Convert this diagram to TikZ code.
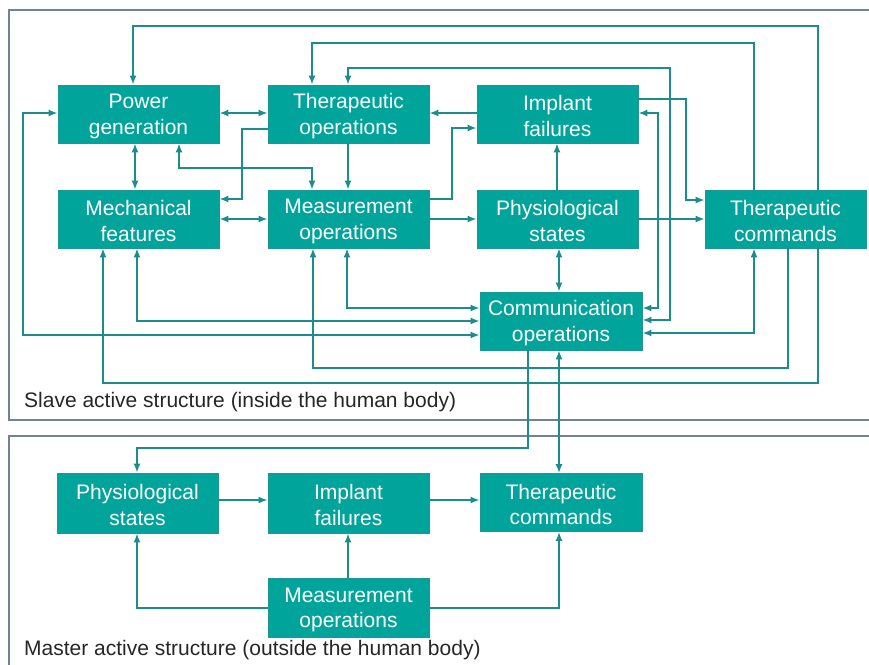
\documentclass[tikz,border=0pt]{standalone}
\usepackage{fontspec}
\setmainfont{Liberation Sans}
\usetikzlibrary{arrows.meta}
\definecolor{boxfill}{RGB}{0,164,154}
\definecolor{boxedge}{RGB}{30,150,145}
\definecolor{linecol}{RGB}{28,140,140}
\definecolor{framecol}{RGB}{112,130,150}
\newcommand{\twoln}[2]{\rule{0pt}{19.5pt}#1\\#2}
\tikzset{
  blk/.style={draw=boxedge, line width=0.8pt, fill=boxfill, text=white, align=center,
    minimum width=161pt, minimum height=58pt, inner sep=0pt,
    font=\fontsize{21}{25.5}\selectfont},
  con/.style={draw=linecol, line width=1.6pt},
  >={Latex[length=9pt,width=7pt]},
  frm/.style={draw=framecol, line width=2pt},
  lbl/.style={anchor=base west, inner sep=0pt, text=black!85, font=\fontsize{21}{24}\selectfont}
}
\begin{document}
\begin{tikzpicture}[x=1pt,y=-1pt]
\useasboundingbox (0,0) rectangle (869,664);
% frames
\draw[frm] (875,10) -- (9,10) -- (9,420) -- (875,420);
\draw[frm] (875,436) -- (9,436) -- (9,670);
\node[lbl] (slavelbl) at (24,407) {Slave active structure (inside the human body)};
\node[lbl] (masterlbl) at (24,655) {Master active structure (outside the human body)};
% slave blocks
\node[blk] (PG) at (138.5,114) {\twoln{Power}{generation}};
\node[blk] (TO) at (348.5,114) {\twoln{Therapeutic}{operations}};
\node[blk] (IF) at (557.5,114) {\twoln{Implant}{failures}};
\node[blk] (MF) at (138.5,219) {\twoln{Mechanical}{features}};
\node[blk] (MO) at (348.5,219) {\twoln{Measurement}{operations}};
\node[blk] (PS) at (557.5,219) {\twoln{Physiological}{states}};
\node[blk] (TC) at (785.5,219) {\twoln{Therapeutic}{commands}};
\node[blk, minimum width=162pt] (CO) at (561,321) {\twoln{Communication}{operations}};
% master blocks
\node[blk, minimum height=60pt] (mPS) at (137.5,503) {\twoln{Physiological}{states}};
\node[blk, minimum height=60pt] (mIF) at (348.5,503) {\twoln{Implant}{failures}};
\node[blk, minimum width=162pt] (mTC) at (561,502.5) {\twoln{Therapeutic}{commands}};
\node[blk, minimum height=59pt] (mMO) at (348.5,607.5) {\twoln{Measurement}{operations}};
% slave connectors
\draw[con,->] (818,0 |- TC.north) -- (818,26) -- (133,26) -- (133,0 |- PG.north);
\draw[con,->] (754,0 |- TC.north) -- (754,43) -- (312,43) -- (312,0 |- TO.north);
\draw[con,<->] (348,0 |- TO.north) -- (348,68) -- (670,68) -- (670,320) -- (CO.east |- 0,320);
\draw[con,<->] (IF.east |- 0,113) -- (658,113) -- (658,308) -- (CO.east |- 0,308);
\draw[con,->] (IF.east |- 0,99) -- (686,99) -- (686,200) -- (TC.west |- 0,200);
\draw[con,->] (PS.east |- 0,219) -- (TC.west |- 0,219);
\draw[con,->] (IF.west |- 0,113) -- (TO.east |- 0,113);
\draw[con,->] (MO.east |- 0,199) -- (452,199) -- (452,128) -- (IF.west |- 0,128);
\draw[con,->] (MO.east |- 0,219) -- (PS.west |- 0,219);
\draw[con,->] (557,0 |- PS.north) -- (557,0 |- IF.south);
\draw[con,<->] (559,0 |- PS.south) -- (559,0 |- CO.north);
\draw[con,<->] (PG.east |- 0,113) -- (TO.west |- 0,113);
\draw[con,<->] (135,0 |- PG.south) -- (135,0 |- MF.north);
\draw[con,<->] (179,0 |- PG.south) -- (179,168) -- (312,168) -- (312,0 |- MO.north);
\draw[con,->] (348,0 |- TO.south) -- (348,0 |- MO.north);
\draw[con,->] (TO.west |- 0,129) -- (242,129) -- (242,199) -- (MF.east |- 0,199);
\draw[con,<->] (MF.east |- 0,219) -- (MO.west |- 0,219);
\draw[con,<->] (347,0 |- MO.south) -- (347,308) -- (CO.west |- 0,308);
\draw[con,<->] (137,0 |- MF.south) -- (137,321) -- (CO.west |- 0,321);
\draw[con,<->] (PG.west |- 0,113) -- (23,113) -- (23,335) -- (CO.west |- 0,335);
\draw[con,<->] (CO.east |- 0,333) -- (754,333) -- (754,0 |- TC.south);
\draw[con,->] (788,0 |- TC.south) -- (788,368) -- (313,368) -- (313,0 |- MO.south);
\draw[con,->] (818,0 |- TC.south) -- (818,383) -- (103,383) -- (103,0 |- MF.south);
% inter-structure connectors
\draw[con,->] (528,0 |- CO.south) -- (528,448) -- (137,448) -- (137,0 |- mPS.north);
\draw[con,<->] (559,0 |- CO.south) -- (559,0 |- mTC.north);
% master connectors
\draw[con,->] (mPS.east |- 0,500) -- (mIF.west |- 0,500);
\draw[con,->] (mIF.east |- 0,500) -- (mTC.west |- 0,500);
\draw[con,->] (348,0 |- mMO.north) -- (348,0 |- mIF.south);
\draw[con,->] (mMO.west |- 0,608) -- (137,608) -- (137,0 |- mPS.south);
\draw[con,->] (mMO.east |- 0,608) -- (559,608) -- (559,0 |- mTC.south);
\end{tikzpicture}
\end{document}
